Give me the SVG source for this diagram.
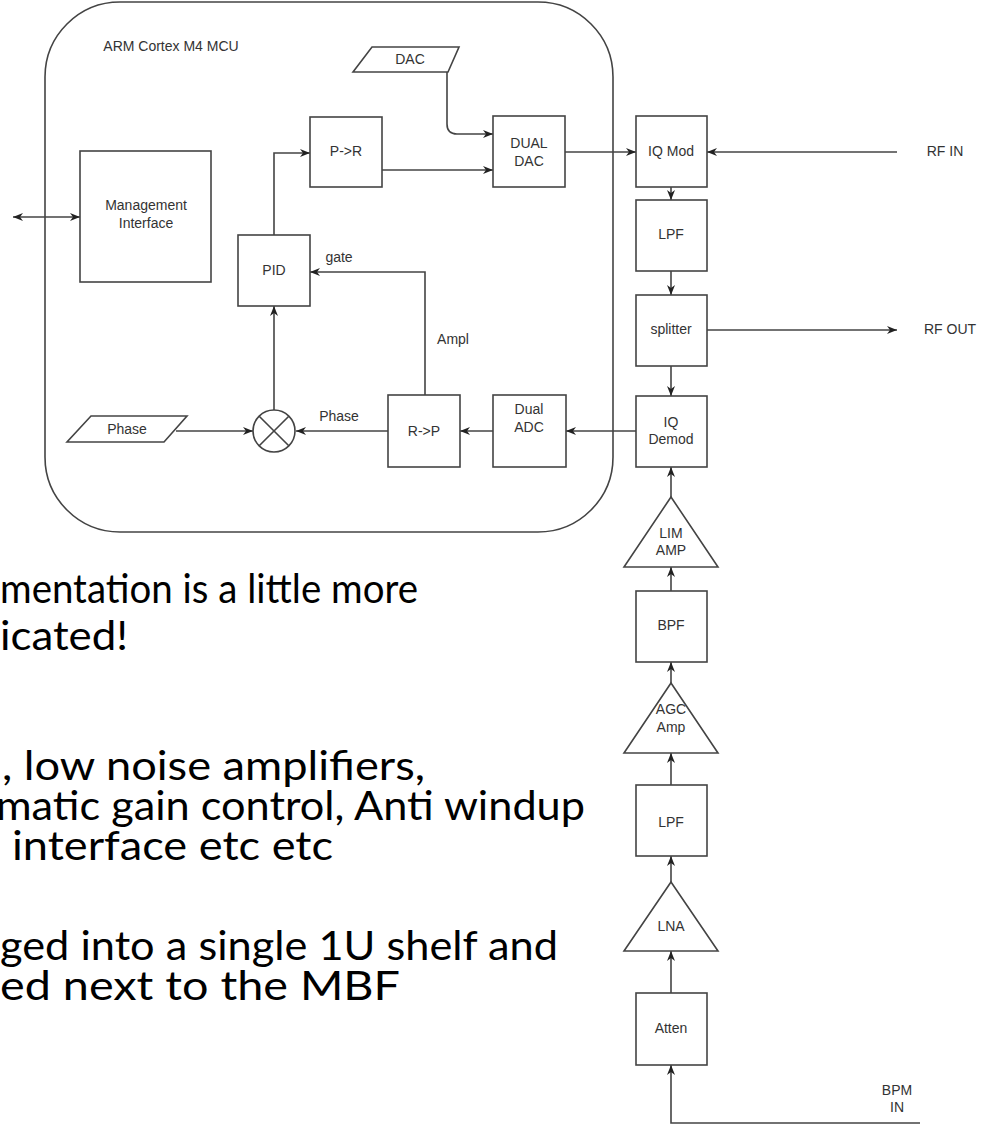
<svg xmlns="http://www.w3.org/2000/svg" width="990" height="1132" viewBox="0 0 990 1132">
<defs>
<marker id="arr" viewBox="0 0 10 10" refX="10" refY="5" markerWidth="10" markerHeight="10" markerUnits="userSpaceOnUse" orient="auto-start-reverse">
<path d="M0,1 L10,5 L0,9 L3,5 z" fill="#222"/>
</marker>
<style>
.box{fill:#fff;stroke:#444;stroke-width:1.6}
.ln{fill:none;stroke:#444;stroke-width:1.6}
.ar{fill:none;stroke:#444;stroke-width:1.6;marker-end:url(#arr)}
.lbl{font-family:"Liberation Sans",Arial,sans-serif;font-size:14px;fill:#333;text-anchor:middle;dominant-baseline:central}
.big{font-family:Lato,"Open Sans",sans-serif;font-size:40px;fill:#000}
</style>
</defs>
<rect width="990" height="1132" fill="#fff"/>

<g id="mcu">
<rect x="45" y="2" width="568" height="530" rx="75" ry="75" class="box"/>
<text x="171" y="46" class="lbl">ARM Cortex M4 MCU</text>
</g>

<g id="connectors">
<path d="M13 217 H80" class="ar" style="marker-start:url(#arr)"/>
<path d="M274 235 V153 H310" class="ar"/>
<path d="M382 170 H493" class="ar"/>
<path d="M447 70 V124 Q447 134 457 134 H493" class="ar"/>
<path d="M565 152 H636" class="ar"/>
<path d="M897 152 H707" class="ar"/>
<path d="M671 187 V200" class="ar"/>
<path d="M671 271 V295" class="ar"/>
<path d="M707 330 H897" class="ar"/>
<path d="M671 366 V396" class="ar"/>
<path d="M636 431 H566" class="ar"/>
<path d="M493 431 H460" class="ar"/>
<path d="M388 431 H296" class="ar"/>
<path d="M176 431 H253" class="ar"/>
<path d="M274 410 V306" class="ar"/>
<path d="M425 395 V272 H310" class="ar"/>
<path d="M671 497 V467" class="ar"/>
<path d="M671 591 V567" class="ar"/>
<path d="M671 683 V662" class="ar"/>
<path d="M671 785 V753" class="ar"/>
<path d="M671 882 V856" class="ar"/>
<path d="M671 993 V951" class="ar"/>
<path d="M920 1123 H671 V1065" class="ar"/>
<text x="339" y="257" class="lbl">gate</text>
<text x="453" y="339" class="lbl">Ampl</text>
<text x="339" y="416" class="lbl">Phase</text>
</g>

<g id="mgmt">
<rect x="80" y="151" width="131" height="131" class="box"/>
<text x="146" y="205" class="lbl">Management</text>
<text x="146" y="223" class="lbl">Interface</text>
</g>

<g id="pid">
<rect x="238" y="235" width="72" height="71" class="box"/>
<text x="274" y="270" class="lbl">PID</text>
</g>

<g id="p2r">
<rect x="310" y="117" width="72" height="70" class="box"/>
<text x="346" y="151" class="lbl">P-&gt;R</text>
</g>

<g id="dac">
<path d="M372 47 H459 L448 72 H353 Z" class="box"/>
<text x="410" y="59" class="lbl">DAC</text>
</g>

<g id="dualdac">
<rect x="493" y="116" width="72" height="71" class="box"/>
<text x="529" y="143" class="lbl">DUAL</text>
<text x="529" y="161" class="lbl">DAC</text>
</g>

<g id="iqmod">
<rect x="636" y="116" width="71" height="71" class="box"/>
<text x="671" y="151" class="lbl">IQ Mod</text>
</g>

<g id="rfin">
<text x="945" y="151" class="lbl">RF IN</text>
</g>

<g id="lpf1">
<rect x="636" y="200" width="71" height="71" class="box"/>
<text x="671" y="234" class="lbl">LPF</text>
</g>

<g id="splitter">
<rect x="636" y="295" width="71" height="71" class="box"/>
<text x="671" y="329" class="lbl">splitter</text>
</g>

<g id="rfout">
<text x="950" y="329" class="lbl">RF OUT</text>
</g>

<g id="iqdemod">
<rect x="636" y="396" width="71" height="71" class="box"/>
<text x="671" y="422" class="lbl">IQ</text>
<text x="671" y="439" class="lbl">Demod</text>
</g>

<g id="dualadc">
<rect x="493" y="395" width="73" height="72" class="box"/>
<text x="529" y="409" class="lbl">Dual</text>
<text x="529" y="427" class="lbl">ADC</text>
</g>

<g id="r2p">
<rect x="388" y="395" width="72" height="72" class="box"/>
<text x="424" y="431" class="lbl">R-&gt;P</text>
</g>

<g id="mixer">
<circle cx="274" cy="431" r="21" class="box"/>
<path d="M259.2 416.2 L288.8 445.8 M288.8 416.2 L259.2 445.8" class="ln"/>
</g>

<g id="phase">
<path d="M91 416 H187 L164 442 H67 Z" class="box"/>
<text x="127" y="429" class="lbl">Phase</text>
</g>

<g id="limamp">
<path d="M671 497 L718 567 H624 Z" class="box"/>
<text x="671" y="533" class="lbl">LIM</text>
<text x="671" y="550" class="lbl">AMP</text>
</g>

<g id="bpf">
<rect x="636" y="591" width="71" height="71" class="box"/>
<text x="671" y="625" class="lbl">BPF</text>
</g>

<g id="agcamp">
<path d="M671 683 L718 753 H624 Z" class="box"/>
<text x="671" y="709" class="lbl">AGC</text>
<text x="671" y="727" class="lbl">Amp</text>
</g>

<g id="lpf2">
<rect x="636" y="785" width="71" height="71" class="box"/>
<text x="671" y="822" class="lbl">LPF</text>
</g>

<g id="lna">
<path d="M671 882 L718 951 H624 Z" class="box"/>
<text x="671" y="926" class="lbl">LNA</text>
</g>

<g id="atten">
<rect x="636" y="993" width="71" height="72" class="box"/>
<text x="671" y="1028" class="lbl">Atten</text>
</g>

<g id="bpmin">
<text x="897" y="1090" class="lbl">BPM</text>
<text x="897" y="1107" class="lbl">IN</text>
</g>

<g id="notes">
<text x="0" y="603" class="big" textLength="418" lengthAdjust="spacingAndGlyphs">mentation is a little more</text>
<text x="0" y="650" class="big" textLength="128" lengthAdjust="spacingAndGlyphs">icated!</text>
<text x="2" y="780" class="big" textLength="423" lengthAdjust="spacingAndGlyphs">, low noise amplifiers,</text>
<text x="-4" y="820" class="big" textLength="589" lengthAdjust="spacingAndGlyphs">matic gain control, Anti windup</text>
<text x="12" y="860" class="big" textLength="321" lengthAdjust="spacingAndGlyphs">interface etc etc</text>
<text x="0" y="960" class="big" textLength="558" lengthAdjust="spacingAndGlyphs">ged into a single 1U shelf and</text>
<text x="0" y="1000" class="big" textLength="400" lengthAdjust="spacingAndGlyphs">ed next to the MBF</text>
</g>
</svg>
